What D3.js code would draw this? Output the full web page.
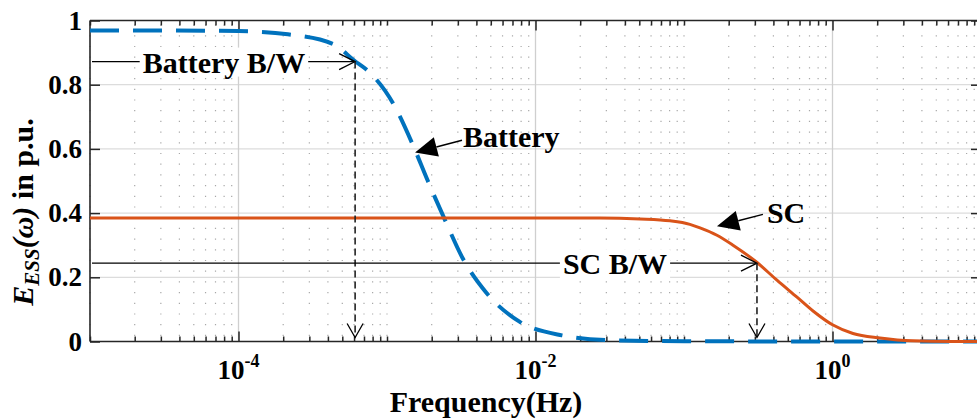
<!DOCTYPE html>
<html><head><meta charset="utf-8">
<script src="https://cdn.jsdelivr.net/npm/d3@7"></script>
<style>
body{margin:0;background:#fff}
svg{display:block}
text{font-family:"Liberation Serif","Times New Roman",serif;font-weight:bold;fill:#000}
</style>
</head><body><svg id="c" width="977" height="419"></svg>
<script>
// ---- data ----
const batteryFreq = [1e-5, 3.16e-5, 1e-4, 2.15e-4, 4.33e-4, 6.10e-4, 7.23e-4, 1.107e-3, 1.472e-3, 1.888e-3, 2.46e-3, 3.22e-3, 4.68e-3, 7.80e-3, 1.507e-2, 3.16e-2, 0.1, 1, 10];
const batteryVal  = [0.969, 0.969, 0.967, 0.957, 0.927, 0.873, 0.848, 0.739, 0.619, 0.499, 0.378, 0.261, 0.151, 0.062, 0.019, 0.004, 0.001, 0, 0];
const scFreq = [1e-5, 1e-3, 0.02716, 0.0506, 0.0805, 0.1096, 0.1282, 0.1667, 0.2138, 0.3105, 0.4227, 0.5768, 0.7396, 1, 1.374, 2.089, 3.483, 6.18, 10];
const scVal  = [0.385, 0.385, 0.385, 0.382, 0.376, 0.365, 0.354, 0.331, 0.300, 0.246, 0.191, 0.138, 0.095, 0.052, 0.025, 0.011, 0.002, 0.0, 0.0];
const yTicks = [0, 0.2, 0.4, 0.6, 0.8, 1];
const yTickLabels = ["0", "0.2", "0.4", "0.6", "0.8", "1"];
const xMajorTicks = [1e-4, 1e-2, 1];
const xMajorExp = ["-4", "-2", "0"];
const xLabel = "Frequency(Hz)";
// bandwidth markers
const bwLabels = ["Battery B/W", "SC B/W"];
const bwFreq = [6.1e-4, 0.31];
const bwVal = [0.872, 0.244];
const bwTextFreq = [7.98e-5, 0.0343];
// series annotations
const annLabels = ["Battery", "SC"];
const annTipFreq = [1.545e-3, 0.1667];
const annTipVal = [0.589, 0.359];
const annTailFreq = [3.2e-3, 0.340];
const annTailVal = [0.627, 0.396];

// ---- chart ----
const svg = d3.select("#c");
const L = 90, R = 981, T = 20.5, B = 341.5;
const x = d3.scaleLog().domain([1e-5, 10]).range([L, R]);
const y = d3.scaleLinear().domain([0, 1]).range([B, T]);

const isMajor = v => xMajorTicks.some(m => Math.abs(Math.log10(v) - Math.log10(m)) < 1e-6);
const minorTicks = x.ticks().filter(v => !isMajor(v));

// grid
const grid = svg.append("g");
grid.selectAll(".mg").data(minorTicks).join("line")
  .attr("x1", d => x(d)).attr("x2", d => x(d)).attr("y1", T + 4).attr("y2", B)
  .attr("stroke", "#a8a8a8").attr("stroke-width", 1.2).attr("stroke-dasharray", "1.2,9.5");
grid.selectAll(".hg").data(yTicks.filter(v => v > 0 && v < 1)).join("line")
  .attr("x1", L).attr("x2", R).attr("y1", d => y(d)).attr("y2", d => y(d))
  .attr("stroke", "#dcdcdc").attr("stroke-width", 1.3);
grid.selectAll(".vg").data(xMajorTicks).join("line")
  .attr("x1", d => x(d)).attr("x2", d => x(d)).attr("y1", T).attr("y2", B)
  .attr("stroke", "#cfcfcf").attr("stroke-width", 1.3);

// axes
const axColor = "#262626";
function styleAxis(g) {
  g.select(".domain").remove();
  g.attr("font-family", null).attr("font-size", null);
  g.selectAll(".tick line").attr("stroke", axColor).attr("stroke-width", 1.5);
}
svg.append("g").attr("transform", `translate(0,${B})`)
  .call(d3.axisBottom(x).tickValues(xMajorTicks).tickSize(-10).tickFormat("")).call(styleAxis);
svg.append("g").attr("transform", `translate(0,${B})`)
  .call(d3.axisBottom(x).tickValues(minorTicks).tickSize(-5).tickFormat("")).call(styleAxis);
svg.append("g").attr("transform", `translate(0,${T})`)
  .call(d3.axisTop(x).tickValues(xMajorTicks).tickSize(-10).tickFormat("")).call(styleAxis);
svg.append("g").attr("transform", `translate(0,${T})`)
  .call(d3.axisTop(x).tickValues(minorTicks).tickSize(-5).tickFormat("")).call(styleAxis);
const yl = svg.append("g").attr("transform", `translate(${L},0)`)
  .call(d3.axisLeft(y).tickValues(yTicks).tickSize(-10).tickPadding(8)
    .tickFormat((d, i) => yTickLabels[i])).call(styleAxis);
yl.selectAll("text").style("font-size", "27px");
svg.append("g").attr("transform", `translate(${R},0)`)
  .call(d3.axisRight(y).tickValues(yTicks).tickSize(-10).tickFormat("")).call(styleAxis);

// x tick labels with superscripts
const xl = svg.append("g").selectAll("text").data(xMajorTicks).join("text")
  .attr("x", d => x(d)).attr("y", 379).attr("text-anchor", "middle").style("font-size", "27px");
xl.append("tspan").text("10");
xl.append("tspan").attr("dy", -12).style("font-size", "18px").text((d, i) => xMajorExp[i]);

// box
const box = svg.append("g").attr("stroke", axColor).attr("stroke-width", 1.6);
box.append("line").attr("x1", L).attr("x2", R).attr("y1", B).attr("y2", B);
box.append("line").attr("x1", L).attr("x2", R).attr("y1", T).attr("y2", T);
box.append("line").attr("x1", L).attr("x2", L).attr("y1", T).attr("y2", B);
box.append("line").attr("x1", R).attr("x2", R).attr("y1", T).attr("y2", B);

// curves
const line = d3.line().x(d => x(d[0])).y(d => y(d[1])).curve(d3.curveMonotoneX);
svg.append("path").datum(d3.zip(batteryFreq, batteryVal)).attr("d", line)
  .attr("fill", "none").attr("stroke", "#0072BD").attr("stroke-width", 4)
  .attr("stroke-dasharray", "29,14");
svg.append("path").datum(d3.zip(scFreq, scVal)).attr("d", line)
  .attr("fill", "none").attr("stroke", "#D95319").attr("stroke-width", 3);

// bandwidth annotations
bwLabels.forEach((lab, i) => {
  const px = x(bwFreq[i]), py = y(bwVal[i]);
  const g = svg.append("g");
  g.append("line").attr("x1", L + 2).attr("x2", px - 1).attr("y1", py).attr("y2", py)
    .attr("stroke", "#000").attr("stroke-width", 1.3);
  g.append("path").attr("d", `M${px - 16},${py - 8}L${px},${py}L${px - 16},${py + 8}`)
    .attr("fill", "none").attr("stroke", "#000").attr("stroke-width", 1.3);
  g.append("line").attr("x1", px).attr("x2", px).attr("y1", py).attr("y2", B - 4)
    .attr("stroke", "#222").attr("stroke-width", 1.6).attr("stroke-dasharray", "7,4");
  g.append("path").attr("d", `M${px - 8},${B - 18}L${px},${B - 4}L${px + 8},${B - 18}`)
    .attr("fill", "none").attr("stroke", "#000").attr("stroke-width", 1.3);
  const t = g.append("text").attr("x", x(bwTextFreq[i])).attr("y", py + 11)
    .attr("text-anchor", "middle").style("font-size", "30px").text(lab);
  const bb = t.node().getBBox();
  g.insert("rect", "text").attr("x", bb.x - 3).attr("y", bb.y + 2)
    .attr("width", bb.width + 6).attr("height", bb.height - 4).attr("fill", "#fff");
});

// series annotations
annLabels.forEach((lab, i) => {
  const tx = x(annTipFreq[i]), ty = y(annTipVal[i]);
  const sx = x(annTailFreq[i]), sy = y(annTailVal[i]);
  const ang = Math.atan2(ty - sy, tx - sx);
  const len = 22, hw = 10;
  const bx = tx - len * Math.cos(ang), by = ty - len * Math.sin(ang);
  const nx = -Math.sin(ang), ny = Math.cos(ang);
  svg.append("line").attr("x1", sx).attr("y1", sy).attr("x2", bx).attr("y2", by)
    .attr("stroke", "#000").attr("stroke-width", 1.5);
  svg.append("path")
    .attr("d", `M${tx},${ty}L${bx + nx * hw},${by + ny * hw}L${bx - nx * hw},${by - ny * hw}Z`)
    .attr("fill", "#000");
  svg.append("text").attr("x", sx + (i === 0 ? 1 : 4)).attr("y", sy + (i === 0 ? 7 : 9))
    .style("font-size", "30px").text(lab);
});

// axis labels
svg.append("text").attr("x", 486).attr("y", 412).attr("text-anchor", "middle")
  .style("font-size", "30px").text(xLabel);
const ylab = svg.append("text").attr("transform", "translate(33,212) rotate(-90)")
  .attr("text-anchor", "middle").style("font-size", "30px");
ylab.append("tspan").style("font-style", "italic").text("E");
ylab.append("tspan").style("font-style", "italic").style("font-size", "21px").attr("dy", 6).text("ESS");
ylab.append("tspan").style("font-style", "italic").attr("dy", -6).text("(ω)");
ylab.append("tspan").text(" in p.u.");
</script>
</body></html>
